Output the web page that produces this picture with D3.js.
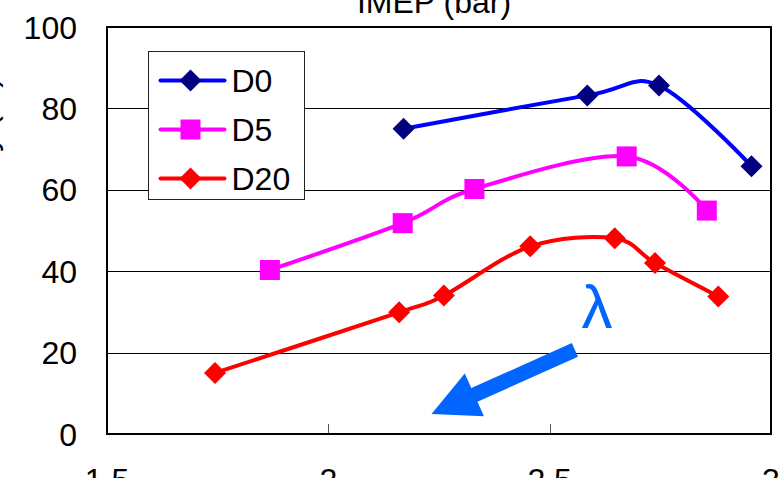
<!DOCTYPE html>
<html>
<head>
<meta charset="utf-8">
<script src="https://cdn.jsdelivr.net/npm/d3@7"></script>
<style>
	body { margin: 0; background: #fff; }
	svg { display: block; }
	text { font-family: "Liberation Sans", Arial, sans-serif; fill: #000; }
</style>
</head>
<body>
<svg width="779" height="478"></svg>
<script>
const svg = d3.select("svg");

const width = +svg.attr("width");
const height = +svg.attr("height");

// data
const seriesNames = ["D0", "D5", "D20"];
const d0X = [2.17, 2.585, 2.747, 2.956];
const d0Y = [75.0, 83.2, 85.6, 65.8];
const d5X = [1.868, 2.168, 2.33, 2.674, 2.855];
const d5Y = [40.3, 51.8, 60.2, 68.2, 54.9];
const d20X = [1.744, 2.16, 2.261, 2.456, 2.647, 2.738, 2.881];
const d20Y = [15.0, 29.9, 34.0, 46.1, 48.1, 42.0, 33.8];
const xTicks = [1.5, 2, 2.5, 3];
const yTicks = [0, 20, 40, 60, 80, 100];

const series = [
	{ name: seriesNames[0], xs: d0X, ys: d0Y, line: "#0000ff", fill: "#000080", shape: "diamond" },
	{ name: seriesNames[1], xs: d5X, ys: d5Y, line: "#ff00ff", fill: "#ff00ff", shape: "square" },
	{ name: seriesNames[2], xs: d20X, ys: d20Y, line: "#ff0000", fill: "#ff0000", shape: "diamond" }
];

const margin = { top: 27, right: 8, bottom: 44, left: 107 };
const innerWidth = width - margin.left - margin.right;
const innerHeight = height - margin.top - margin.bottom;

const xScale = d3.scaleLinear()
	.domain([1.5, 3])
	.range([0, innerWidth]);

const yScale = d3.scaleLinear()
	.domain([0, 100])
	.range([innerHeight, 0]);

const group = svg.append("g")
	.attr("transform", `translate(${margin.left}, ${margin.top})`);

// gridlines
group.selectAll(".grid").data(yTicks.slice(1, -1))
	.enter().append("line")
		.attr("x1", 0)
		.attr("x2", innerWidth)
		.attr("y1", d => Math.round(yScale(d)) + 0.5)
		.attr("y2", d => Math.round(yScale(d)) + 0.5)
		.attr("stroke", "#000")
		.attr("stroke-width", 1);

// x ticks, pointing inward
group.selectAll(".xtick").data(xTicks.slice(1, -1))
	.enter().append("line")
		.attr("x1", d => Math.round(xScale(d)) + 0.5)
		.attr("x2", d => Math.round(xScale(d)) + 0.5)
		.attr("y1", innerHeight)
		.attr("y2", innerHeight - 10)
		.attr("stroke", "#555")
		.attr("stroke-width", 1);

// plot frame
group.append("rect")
	.attr("width", innerWidth)
	.attr("height", innerHeight)
	.attr("fill", "none")
	.attr("stroke", "#000")
	.attr("stroke-width", 2);

// tick labels
group.selectAll(".ylab").data(yTicks)
	.enter().append("text")
		.attr("x", -30)
		.attr("y", d => yScale(d))
		.attr("dy", "0.36em")
		.attr("text-anchor", "end")
		.attr("font-size", 32)
		.text(d => d);

group.selectAll(".xlab").data(xTicks)
	.enter().append("text")
		.attr("x", d => xScale(d))
		.attr("y", innerHeight + 57)
		.attr("text-anchor", "middle")
		.attr("font-size", 32)
		.text(d => d);

// titles, mostly clipped by the picture edge
svg.append("text")
	.attr("x", margin.left + innerWidth / 2 - 5)
	.attr("y", 13)
	.attr("text-anchor", "middle")
	.attr("font-size", 32)
	.text("IMEP (bar)");

svg.append("text")
	.attr("transform", "translate(-4, 77) rotate(-90)")
	.attr("text-anchor", "end")
	.attr("font-size", 32)
	.text("Thermal efficiency (%)");

// lines
const lineGen = d3.line()
	.x(d => xScale(d[0]))
	.y(d => yScale(d[1]))
	.curve(d3.curveCatmullRom.alpha(0));

const marker = (sel, s, size) => {
	if (s.shape === "diamond") {
		sel.append("path")
			.attr("d", `M0,${-size}L${size},0L0,${size}L${-size},0Z`)
			.attr("fill", s.fill);
	} else {
		sel.append("rect")
			.attr("x", -size + 1)
			.attr("y", -size + 1)
			.attr("width", (size - 1) * 2)
			.attr("height", (size - 1) * 2)
			.attr("fill", s.fill);
	}
};

series.forEach(s => {
	const pts = s.xs.map((x, i) => [x, s.ys[i]]);
	group.append("path")
		.attr("d", lineGen(pts))
		.attr("fill", "none")
		.attr("stroke", s.line)
		.attr("stroke-width", 4)
		.attr("stroke-linejoin", "round");
	pts.forEach(p => {
		const g = group.append("g")
			.attr("transform", `translate(${xScale(p[0])}, ${yScale(p[1])})`);
		marker(g, s, 11);
	});
});

// legend
const legend = svg.append("g")
	.attr("transform", "translate(148.5, 51.5)");

legend.append("rect")
	.attr("width", 156)
	.attr("height", 148)
	.attr("fill", "#fff")
	.attr("stroke", "#222")
	.attr("stroke-width", 1);

series.forEach((s, i) => {
	const row = legend.append("g")
		.attr("transform", `translate(0, ${29 + i * 49})`);
	row.append("line")
		.attr("x1", 12)
		.attr("x2", 76)
		.attr("stroke", s.line)
		.attr("stroke-width", 4)
		.attr("stroke-linecap", "round");
	const m = row.append("g").attr("transform", "translate(42, 0)");
	marker(m, s, 11);
	row.append("text")
		.attr("x", 83)
		.attr("dy", "0.36em")
		.attr("font-size", 32)
		.text(s.name);
});

// lambda annotation and arrow
const arrowTail = [2.557, 20.65];
const arrowTip = [2.233, 4.9];

const tx = xScale(arrowTail[0]), ty = yScale(arrowTail[1]);
const px = xScale(arrowTip[0]), py = yScale(arrowTip[1]);
const len = Math.hypot(px - tx, py - ty);
const ux = (px - tx) / len, uy = (py - ty) / len;
const nx = -uy, ny = ux;
const shaftHalf = 7.5, headHalf = 23.5, headLen = 47;
const bx = px - ux * headLen, by = py - uy * headLen;
const arrowPts = [
	[tx + nx * shaftHalf, ty + ny * shaftHalf],
	[bx + nx * shaftHalf, by + ny * shaftHalf],
	[bx + nx * headHalf, by + ny * headHalf],
	[px, py],
	[bx - nx * headHalf, by - ny * headHalf],
	[bx - nx * shaftHalf, by - ny * shaftHalf],
	[tx - nx * shaftHalf, ty - ny * shaftHalf]
];
group.append("path")
	.attr("d", "M" + arrowPts.map(p => p.join(",")).join("L") + "Z")
	.attr("fill", "#0066ff");

group.append("text")
	.attr("x", xScale(2.607))
	.attr("y", yScale(26.1))
	.attr("text-anchor", "middle")
	.attr("font-family", "'Liberation Serif', 'Times New Roman', serif")
	.attr("font-size", 62)
	.style("fill", "#0066ff")
	.text("λ");
</script>
</body>
</html>
